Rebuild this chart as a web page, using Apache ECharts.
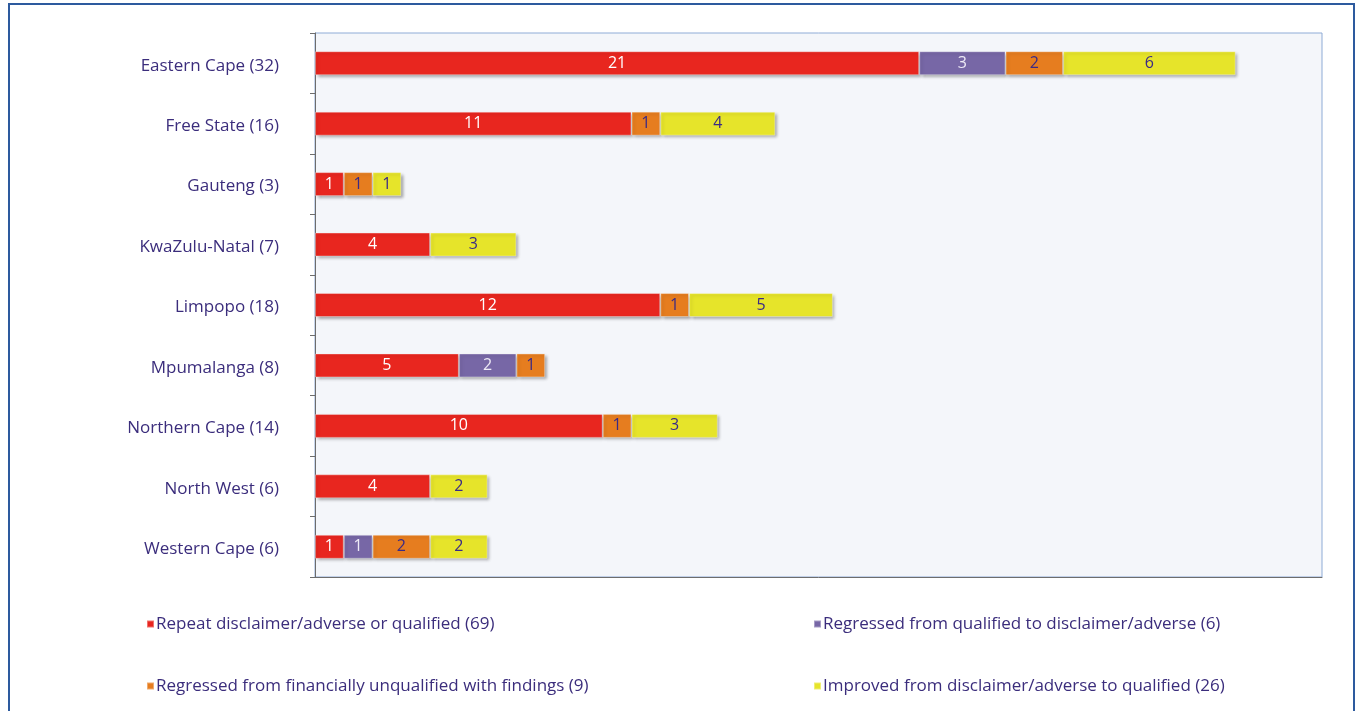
<!DOCTYPE html>
<html>
<head>
<meta charset="utf-8">
<script src="https://cdn.jsdelivr.net/npm/echarts@6/dist/echarts.min.js"></script>
<style>
  html, body { margin: 0; padding: 0; background: #ffffff; }
  #chart { width: 1356px; height: 711px; }
</style>
</head>
<body>
<div id="chart"></div>
<script>
// Provinces and audit-outcome movements per province
const provinces = ['Eastern Cape (32)', 'Free State (16)', 'Gauteng (3)', 'KwaZulu-Natal (7)', 'Limpopo (18)',
  'Mpumalanga (8)', 'Northern Cape (14)', 'North West (6)', 'Western Cape (6)'];
const repeatDisclaimer = [21, 11, 1, 4, 12, 5, 10, 4, 1];
const regressedQualified = [3, null, null, null, null, 2, null, null, 1];
const regressedFinancial = [2, 1, 1, null, 1, 1, 1, null, 2];
const improvedQualified = [6, 4, 1, 3, 5, null, 3, 2, 2];

const seriesNames = [
  'Repeat disclaimer/adverse or qualified (69)',
  'Regressed from qualified to disclaimer/adverse (6)',
  'Regressed from financially unqualified with findings (9)',
  'Improved from disclaimer/adverse to qualified (26)'
];
const seriesData = [repeatDisclaimer, regressedQualified, regressedFinancial, improvedQualified];
const colors = ['#e8261f', '#7767a6', '#e67d1f', '#e6e42a'];
const labelColors = ['#ffffff', '#eeeaf6', '#3a2a86', '#3a2a86'];

const FONT = 'Open Sans';
const TEXT = '#3b2d7c';

const chart = echarts.init(document.getElementById('chart'));
chart.setOption({
  animation: false,
  textStyle: { fontFamily: FONT },
  graphic: [{
    type: 'rect',
    shape: { x: 9, y: 4, width: 1345, height: 740 },
    style: { fill: 'none', stroke: '#2d5a9e', lineWidth: 2 },
    silent: true, z: -1
  }],
  grid: {
    left: 315, top: 33, right: 34, bottom: 134,
    show: true, backgroundColor: '#f4f6fa', borderColor: '#8eabd6', borderWidth: 1
  },
  legend: [
    {
      left: 141, top: 609, orient: 'vertical', itemGap: 42,
      itemWidth: 7, itemHeight: 7, icon: 'rect',
      textStyle: { color: TEXT, fontSize: 17, fontFamily: FONT, fontWeight: 500, lineHeight: 20, padding: [0, 0, 0, -3] },
      data: [seriesNames[0], seriesNames[2]]
    },
    {
      left: 808, top: 609, orient: 'vertical', itemGap: 42,
      itemWidth: 7, itemHeight: 7, icon: 'rect',
      textStyle: { color: TEXT, fontSize: 17, fontFamily: FONT, fontWeight: 500, lineHeight: 20, padding: [0, 0, 0, -3] },
      data: [seriesNames[1], seriesNames[3]]
    }
  ],
  xAxis: {
    type: 'value', min: 0, max: 35,
    axisLine: { show: true, lineStyle: { color: '#6d6d6d', width: 1 } },
    axisTick: { show: false },
    axisLabel: { show: false },
    splitLine: { show: false }
  },
  yAxis: {
    type: 'category', data: provinces, inverse: true,
    axisLine: { show: true, lineStyle: { color: '#6d6d6d', width: 1 } },
    axisTick: { show: true, length: 5, lineStyle: { color: '#6d6d6d' } },
    axisLabel: {
      color: TEXT, fontSize: 17, fontFamily: FONT, fontWeight: 500, margin: 36,
      formatter: v => '{p|' + v + '}',
      rich: { p: { color: TEXT, fontSize: 17, fontFamily: FONT, fontWeight: 500, padding: [5, 0, 0, 0] } }
    }
  },
  series: seriesData.map((d, i) => ({
    name: seriesNames[i],
    type: 'bar',
    stack: 'total',
    data: d,
    barWidth: 24,
    itemStyle: {
      color: colors[i],
      borderColor: 'rgba(255,255,255,0.35)', borderWidth: 1,
      shadowColor: 'rgba(0,0,0,0.35)', shadowBlur: 3, shadowOffsetX: 2, shadowOffsetY: 2
    },
    label: {
      show: true, position: 'inside', color: labelColors[i],
      fontSize: 16, fontFamily: FONT, fontWeight: 500
    }
  }))
});
</script>
</body>
</html>
